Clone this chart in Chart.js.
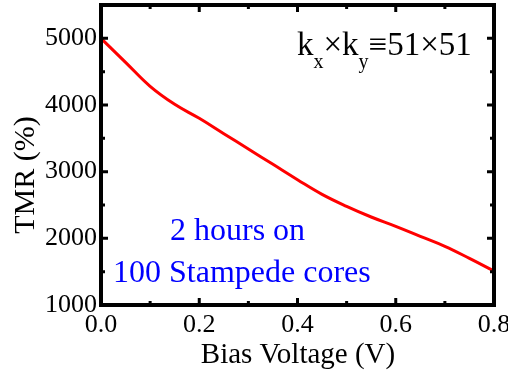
<!DOCTYPE html>
<html>
<head>
<meta charset="utf-8">
<script src="https://cdn.jsdelivr.net/npm/chart.js@4.4.1/dist/chart.umd.min.js"></script>
<style>
  html, body { margin: 0; padding: 0; background: #fff; }
</style>
</head>
<body>
<canvas id="c" width="508" height="370"></canvas>
<script>
// ---- data ----
const voltage = [0.00, 0.05, 0.10, 0.15, 0.20, 0.25, 0.30, 0.35, 0.40, 0.45, 0.50, 0.55, 0.60, 0.65, 0.70, 0.75, 0.80];
const tmr     = [5000, 4640, 4280, 4010, 3800, 3570, 3340, 3110, 2880, 2660, 2480, 2320, 2180, 2030, 1880, 1700, 1510];
const xTickLabels = [0.0, 0.2, 0.4, 0.6, 0.8];
const yTickLabels = [1000, 2000, 3000, 4000, 5000];
const xTitle = 'Bias Voltage (V)';
const yTitle = 'TMR (%)';
const noteLines = ['2 hours on', '100 Stampede cores'];

const SERIF = "'Liberation Serif', serif";

const isXMajor = v => xTickLabels.some(t => Math.abs(t - v) < 1e-6);
const isYMajor = v => yTickLabels.some(t => Math.abs(t - v) < 1e-6);

const frameAndText = {
  id: 'frameAndText',
  afterDraw(chart) {
    const { ctx, chartArea: a, scales: { x, y } } = chart;
    ctx.save();
    ctx.strokeStyle = '#000';
    ctx.lineWidth = 4;
    ctx.strokeRect(a.left, a.top, a.right - a.left, a.bottom - a.top);
    ctx.lineWidth = 3;
    ctx.beginPath();
    x.ticks.forEach(t => {
      const px = x.getPixelForValue(t.value);
      if (px <= a.left + 2 || px >= a.right - 2) return;
      const L = isXMajor(t.value) ? 7 : 4;
      ctx.moveTo(px, a.bottom); ctx.lineTo(px, a.bottom - L);
      ctx.moveTo(px, a.top); ctx.lineTo(px, a.top + L);
    });
    y.ticks.forEach(t => {
      const py = y.getPixelForValue(t.value);
      if (py <= a.top + 2 || py >= a.bottom - 2) return;
      const L = isYMajor(t.value) ? 7 : 4;
      ctx.moveTo(a.left, py); ctx.lineTo(a.left + L, py);
      ctx.moveTo(a.right, py); ctx.lineTo(a.right - L, py);
    });
    ctx.stroke();

    ctx.fillStyle = '#000';
    ctx.font = '29px ' + SERIF;
    ctx.textAlign = 'center';
    ctx.textBaseline = 'alphabetic';
    ctx.fillText(xTitle, 298, 363);

    ctx.save();
    ctx.translate(34, 175);
    ctx.rotate(-Math.PI / 2);
    ctx.font = '30px ' + SERIF;
    ctx.fillText(yTitle, 0, 0);
    ctx.restore();

    ctx.textAlign = 'left';
    const big = '33px ' + SERIF, small = '20px ' + SERIF;
    let cx = 297;
    const base = 55, subBase = 68;
    const parts = [['k', big, base], ['x', small, subBase], ['\u00D7k', big, base], ['y', small, subBase], ['\u226151\u00D751', big, base]];
    parts.forEach(([s, f, b]) => {
      ctx.font = f;
      ctx.fillText(s, cx, b);
      cx += ctx.measureText(s).width;
    });

    ctx.fillStyle = '#0000ff';
    ctx.font = '32px ' + SERIF;
    ctx.fillText(noteLines[0], 170, 240);
    ctx.fillText(noteLines[1], 113, 282);
    ctx.restore();
  }
};

new Chart(document.getElementById('c'), {
  type: 'line',
  data: {
    datasets: [{
      data: voltage.map((v, i) => ({ x: v, y: tmr[i] })),
      borderColor: '#ff0000',
      borderWidth: 3,
      pointRadius: 0,
      fill: false,
      tension: 0.4
    }]
  },
  options: {
    responsive: false,
    animation: false,
    devicePixelRatio: 1,
    layout: { padding: { top: 5, right: 14, left: 0, bottom: 0 } },
    plugins: { legend: { display: false }, tooltip: { enabled: false }, title: { display: false } },
    scales: {
      x: {
        type: 'linear', min: 0, max: 0.8,
        grid: { display: false, drawTicks: false },
        border: { display: false },
        ticks: {
          stepSize: 0.1, autoSkip: false, maxRotation: 0, minRotation: 0,
          padding: 5, color: '#000', font: { family: SERIF, size: 26 },
          callback: v => isXMajor(v) ? Number(v).toFixed(1) : ''
        },
        afterFit(s) { s.height = 65; s.paddingLeft = 0; s.paddingRight = 0; }
      },
      y: {
        type: 'linear', min: 1000, max: 5500,
        grid: { display: false, drawTicks: false },
        border: { display: false },
        ticks: {
          stepSize: 500, autoSkip: false,
          padding: 4, color: '#000', font: { family: SERIF, size: 26 },
          callback: v => isYMajor(v) ? String(v) : ''
        },
        afterFit(s) { s.width = 101; s.paddingTop = 0; s.paddingBottom = 0; }
      }
    }
  },
  plugins: [frameAndText]
});
</script>
</body>
</html>
